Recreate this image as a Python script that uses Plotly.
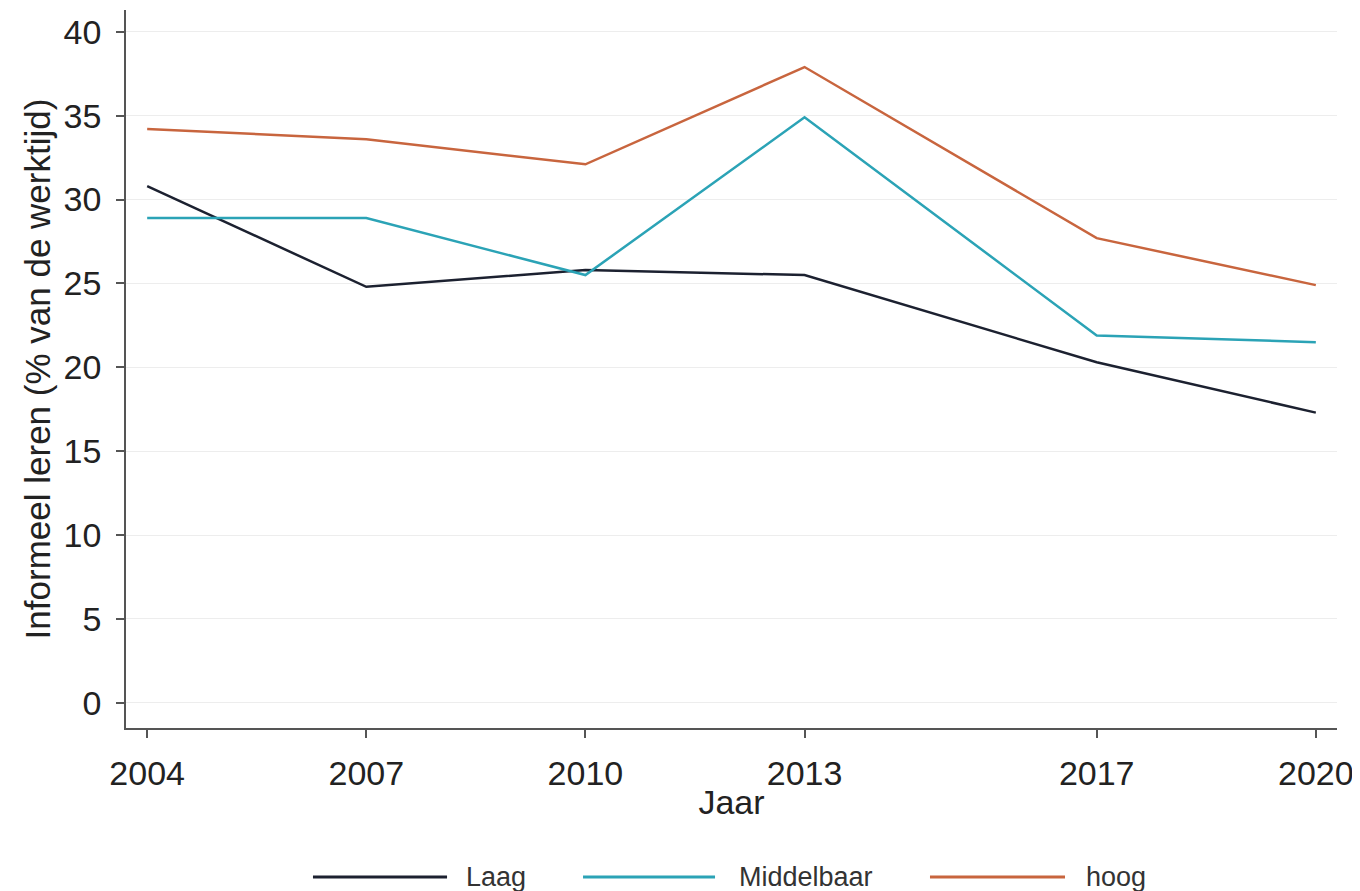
import plotly.graph_objects as go

years = [2004, 2007, 2010, 2013, 2017, 2020]
laag = [30.8, 24.8, 25.8, 25.5, 20.3, 17.3]
middelbaar = [28.9, 28.9, 25.5, 34.9, 21.9, 21.5]
hoog = [34.2, 33.6, 32.1, 37.9, 27.7, 24.9]

series_names = ["Laag", "Middelbaar", "hoog"]
series_colors = ["#1c2130", "#2ba3b6", "#c8653e"]
y_ticks = [0, 5, 10, 15, 20, 25, 30, 35, 40]

# legend layout (paper coordinates): line start, line end, label start
legend_line_x0 = [0.1544, 0.3774, 0.6639]
legend_line_x1 = [0.2651, 0.4864, 0.7754]
legend_text_x = [0.2790, 0.5045, 0.7910]
legend_y = -0.2075

FONT = "Liberation Sans, Arial, sans-serif"

fig = go.Figure()
for name, vals, col in zip(series_names, [laag, middelbaar, hoog], series_colors):
    fig.add_trace(go.Scatter(x=years, y=vals, mode="lines", name=name,
                             line=dict(color=col, width=2.5), showlegend=False))

# custom legend with long line samples
for name, col, x0, x1, xt in zip(series_names, series_colors, legend_line_x0,
                                 legend_line_x1, legend_text_x):
    fig.add_shape(type="line", xref="paper", yref="paper", x0=x0, x1=x1,
                  y0=legend_y, y1=legend_y, line=dict(color=col, width=3))
    fig.add_annotation(xref="paper", yref="paper", x=xt, y=legend_y,
                       text=name, showarrow=False, xanchor="left", yanchor="middle",
                       font=dict(size=27, color="#333333", family=FONT))

fig.update_layout(
    width=1352, height=883,
    margin=dict(l=118, r=23, t=2, b=163, autoexpand=False),
    paper_bgcolor="white", plot_bgcolor="white",
    font=dict(family=FONT, color="#222222", size=34),
    showlegend=False,
)
fig.update_xaxes(
    range=[2003.71, 2020.29], tickmode="array", tickvals=years,
    ticktext=[str(y) for y in years],
    showline=True, linecolor="#555555", linewidth=1.5,
    ticks="outside", ticklen=8, tickcolor="#555555", tickwidth=1.5,
    tickfont=dict(size=34, color="#222222"), ticklabelstandoff=6,
    showgrid=False, zeroline=False,
    title=dict(text="Jaar", font=dict(size=34, color="#222222"), standoff=0),
)
fig.update_yaxes(
    range=[-1.5, 41.3], tickmode="array", tickvals=y_ticks,
    showline=True, linecolor="#555555", linewidth=1.5,
    ticks="outside", ticklen=8, tickcolor="#555555", tickwidth=1.5,
    tickfont=dict(size=34, color="#222222"), ticklabelstandoff=8,
    showgrid=True, gridcolor="#ededed", gridwidth=1, zeroline=False,
    title=dict(text="Informeel leren (% van de werktijd)", font=dict(size=35, color="#222222"), standoff=2),
)

fig.write_html("out.html")
